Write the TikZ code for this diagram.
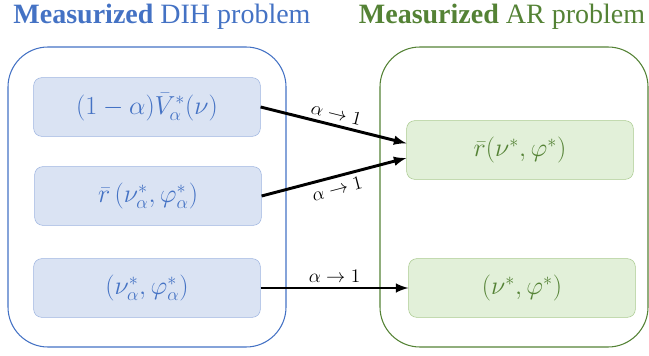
\documentclass[tikz,border=0pt]{standalone}
\usepackage{amsmath,amsfonts,graphicx}
\usepackage{fontspec}
\newfontfamily\titlefont{Liberation Serif}
\usetikzlibrary{arrows,shapes,positioning}
\definecolor{dihtext}{HTML}{4472C4}
\definecolor{dihfill}{HTML}{DAE3F3}
\definecolor{dihline}{HTML}{9DB4E0}
\definecolor{artext}{HTML}{548235}
\definecolor{arfill}{HTML}{E2F0D9}
\definecolor{arline}{HTML}{A9C98E}
\newcommand{\boxmath}[1]{\scalebox{1.13}{$#1$}}
\tikzstyle{outer}=[rectangle,rounded corners=30pt,line width=0.8pt,minimum height=225pt]
\tikzstyle{dihbox}=[rectangle,rounded corners=6pt,draw=dihline,fill=dihfill,text=dihtext,minimum width=170pt,minimum height=44pt,font=\fontsize{17.28}{21}\selectfont]
\tikzstyle{arbox}=[rectangle,rounded corners=6pt,draw=arline,fill=arfill,text=artext,minimum width=170pt,minimum height=44pt,font=\fontsize{17.28}{21}\selectfont]
\tikzstyle{limit}=[->, line width=2.2pt]
\tikzstyle{lbl}=[font=\fontsize{14}{16}\selectfont,sloped]

\begin{document}
\begin{tikzpicture}[x=0.75pt,y=-0.75pt,>=latex]
\useasboundingbox (0,0) rectangle (649,356);
\node[text=dihtext,font=\titlefont\fontsize{21}{25}\selectfont] (T1) at (162,17) {{\bfseries Measurized} DIH problem};
\node[text=artext,font=\titlefont\fontsize{21}{25}\selectfont] (T2) at (502,17) {{\bfseries Measurized} AR problem};
\node[outer,draw=dihtext,minimum width=208.5pt] (DIH) at (147,197) {};
\node[outer,draw=artext,minimum width=201pt] (AR) at (514,197) {};
\node[dihbox] (V) at (147,107) {\boxmath{(1-\alpha)\bar{V}^*_\alpha(\nu)}};
\node[dihbox] (Ra) at (148,196) {\boxmath{\bar{r}\,(\nu^*_\alpha,\varphi^*_\alpha)}};
\node[dihbox] (Pa) at (147,288) {\boxmath{(\nu^*_\alpha,\varphi^*_\alpha)}};
\node[arbox] (R) at (520,150) {\boxmath{\bar{r}(\nu^*,\varphi^*)}};
\node[arbox] (P) at (522,288) {\boxmath{(\nu^*,\varphi^*)}};
\draw[limit] (V.east) -- node[lbl,above] {$\alpha\to 1$} ([yshift=5pt]R.west);
\draw[limit] (Ra.east) -- node[lbl,below] {$\alpha\to 1$} ([yshift=-6pt]R.west);
\draw[limit] (Pa) -- node[lbl,above] {$\alpha\to 1$} (P);
\end{tikzpicture}
\end{document}
